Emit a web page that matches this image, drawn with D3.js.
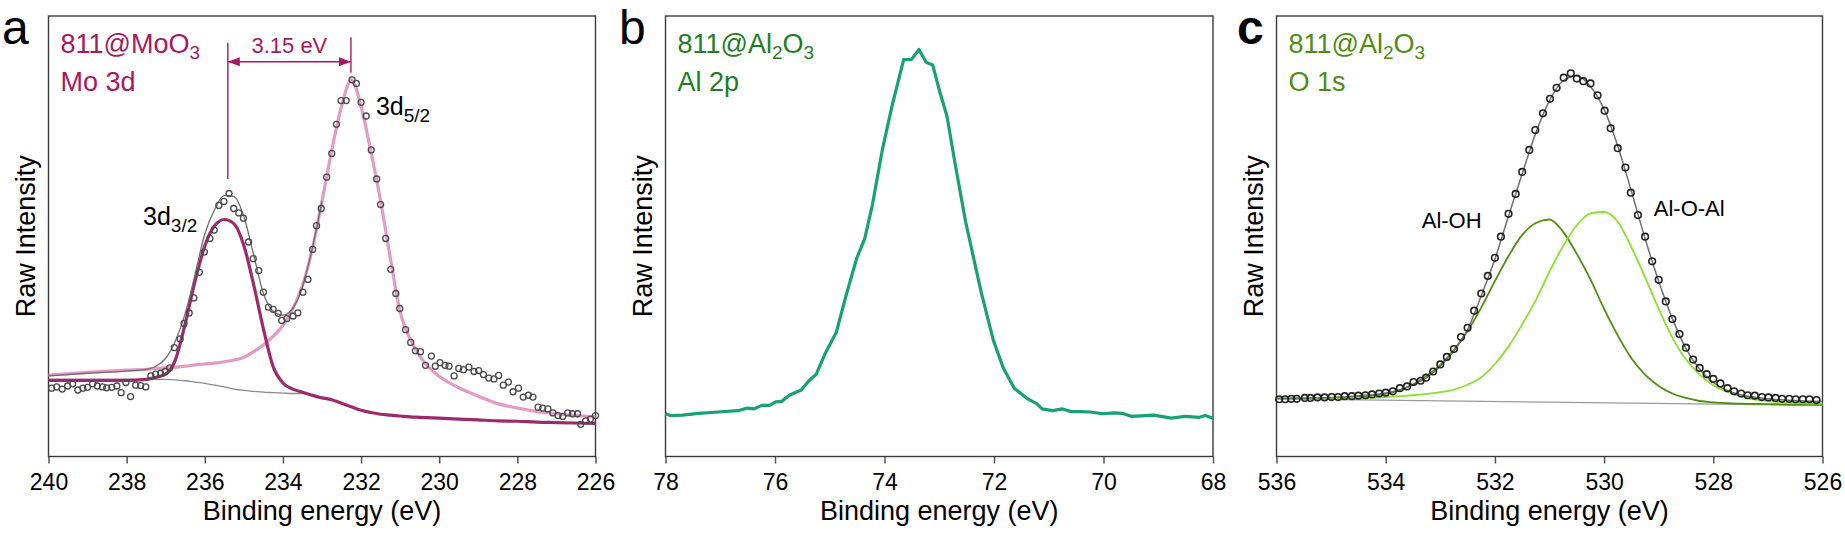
<!DOCTYPE html>
<html>
<head>
<meta charset="utf-8">
<script src="https://cdn.jsdelivr.net/npm/d3@7"></script>
<style>
  body { margin: 0; background: #fff; }
  svg text { font-family: "Liberation Sans", Arial, sans-serif; }
</style>
</head>
<body>
<div id="chart"></div>
<script>
// intensities are raw counts rescaled: 0 = bottom of the frame, 100 = top

// ---- a: Mo 3d ----
var moTicks = [240, 238, 236, 234, 232, 230, 228, 226];
var moRaw = [
    [239.92, 15.5], [239.79, 15.8], [239.65, 15.3], [239.51, 16.0], [239.38, 16.5], [239.25, 15.1],
    [239.12, 15.5], [239.00, 15.7], [238.87, 16.5], [238.75, 16.0], [238.62, 15.8], [238.51, 15.6],
    [238.38, 15.7], [238.25, 16.0], [238.14, 14.5], [238.02, 16.8], [237.90, 13.6], [237.77, 16.2],
    [237.64, 16.1], [237.51, 15.8], [237.38, 18.3], [237.26, 18.7], [237.13, 18.9], [237.01, 19.3],
    [236.90, 20.1], [236.78, 24.7], [236.63, 26.7], [236.53, 30.2], [236.40, 32.6], [236.28, 36.0],
    [236.14, 41.8], [236.01, 46.4], [235.87, 49.5], [235.76, 51.4], [235.64, 57.0], [235.51, 57.9],
    [235.38, 59.7], [235.26, 56.3], [235.13, 55.3], [235.01, 54.1], [234.88, 48.7], [234.76, 44.9],
    [234.62, 42.2], [234.50, 37.3], [234.37, 33.9], [234.25, 33.4], [234.12, 32.5], [234.03, 30.9],
    [233.90, 31.3], [233.74, 31.9], [233.62, 32.6], [233.49, 37.3], [233.36, 40.2], [233.24, 47.0],
    [233.14, 52.4], [233.02, 56.3], [232.88, 63.4], [232.75, 68.8], [232.63, 75.4], [232.51, 80.8],
    [232.38, 80.8], [232.23, 85.5], [232.12, 84.7], [232.00, 80.4], [231.87, 77.3], [231.74, 69.6],
    [231.60, 63.0], [231.50, 57.2], [231.37, 49.5], [231.24, 42.5], [231.11, 37.0], [231.01, 33.6],
    [230.86, 28.8], [230.73, 25.9], [230.61, 24.0], [230.48, 23.8], [230.35, 20.7], [230.20, 22.8],
    [230.10, 20.5], [229.98, 21.3], [229.85, 20.7], [229.75, 20.5], [229.62, 18.3], [229.50, 20.0],
    [229.38, 19.7], [229.24, 20.3], [229.11, 19.3], [228.99, 19.5], [228.87, 18.6], [228.73, 17.8],
    [228.60, 17.6], [228.48, 18.4], [228.36, 16.2], [228.23, 16.9], [228.11, 14.7], [227.97, 15.5],
    [227.85, 13.5], [227.72, 13.9], [227.60, 13.5], [227.47, 11.2], [227.35, 11.0], [227.22, 10.8],
    [227.09, 9.9], [226.96, 9.3], [226.84, 9.1], [226.71, 9.9], [226.59, 9.7], [226.46, 9.7],
    [226.38, 7.3], [226.25, 8.1], [226.13, 8.5], [226.00, 9.3]
];
var moFitE = [240, 239, 238, 237.5, 237.25, 237, 236.75, 236.5, 236.25, 236, 235.75, 235.5, 235.25, 235,
    234.75, 234.5, 234.25, 234, 233.75, 233.5, 233.25, 233, 232.75, 232.5, 232.25, 232, 231.75, 231.5,
    231.25, 231, 230.75, 230.5, 230, 229.5, 229, 228.5, 228, 227.5, 227, 226.5, 226];
var moD52 = [18.5, 19.1, 19.6, 19.8, 20.0, 20.1, 20.3, 20.5, 20.8, 21.0, 21.2, 21.5, 21.9, 22.5,
    23.8, 25.3, 27.3, 29.8, 33.5, 38.8, 47.0, 58.0, 69.5, 79.5, 85.5, 79.5, 69.3, 58.0,
    45.0, 32.8, 26.8, 22.8, 18.2, 15.6, 13.7, 12.0, 11.0, 10.2, 9.7, 9.3, 9.0];
var moD32 = [17.3, 17.3, 17.3, 17.5, 18.0, 18.7, 22.0, 30.2, 39.8, 47.8, 52.4, 53.8, 52.8, 47.9,
    39.0, 29.0, 20.4, 16.7, 15.3, 14.6, 13.9, 13.3, 12.9, 12.1, 11.3, 10.5, 10.0, 9.6,
    9.4, 9.2, 9.0, 8.9, 8.7, 8.5, 8.3, 8.1, 8.0, 7.8, 7.7, 7.6, 7.5];
var moBackground = [17.5, 17.5, 17.5, 17.5, 17.5, 17.5, 17.4, 17.2, 16.9, 16.6, 16.2, 15.8, 15.3, 15.0,
    14.8, 14.6, 14.5, 14.4, 14.3, 14.3, null, null, null, null, null, null, null, null,
    null, null, null, null, null, null, null, null, null, null, null, null, null];
var moEnvelope = [18.3, 18.9, 19.4, 19.8, 20.5, 22.3, 26.3, 32.5, 41.3, 50.5, 56.0, 59.3, 59.0, 54.5,
    45.8, 37.0, 33.0, 32.1, 33.6, 38.5, 47.2, 58.0, null, null, null, null, null, null,
    null, null, null, null, null, null, null, null, null, null, null, null, null];
var moPeaks = [235.41, 232.26]; // 3d3/2 and 3d5/2, 3.15 eV apart

// ---- b: Al 2p ----
var alTicks = [78, 76, 74, 72, 70, 68];
var al2p = [
    [78.00, 9.7], [77.91, 9.3], [77.69, 9.4], [77.40, 9.8], [77.04, 10.1], [76.68, 10.4], [76.50, 11.0],
    [76.39, 10.8], [76.24, 11.6], [76.10, 11.6], [75.99, 12.4], [75.88, 12.5], [75.74, 13.9], [75.52, 15.1],
    [75.38, 17.2], [75.25, 18.6], [75.09, 23.2], [74.88, 28.2], [74.69, 37.1], [74.51, 44.9], [74.36, 49.5],
    [74.22, 57.2], [74.04, 69.6], [73.86, 79.7], [73.65, 90.1], [73.51, 90.1], [73.37, 92.4], [73.24, 89.5],
    [73.12, 88.9], [72.99, 82.8], [72.86, 77.3], [72.70, 65.7], [72.52, 53.4], [72.37, 44.9], [72.23, 37.1],
    [72.01, 26.3], [71.83, 20.1], [71.63, 15.5], [71.40, 13.2], [71.22, 12.0], [71.12, 10.8], [70.93, 10.4],
    [70.75, 10.8], [70.60, 10.2], [70.42, 10.2], [70.24, 10.1], [70.02, 9.7], [69.81, 9.9], [69.66, 9.8],
    [69.48, 9.1], [69.08, 9.4], [68.76, 8.7], [68.51, 9.1], [68.25, 8.9], [68.14, 9.3], [68.00, 8.7]
];

// ---- c: O 1s ----
var oTicks = [536, 534, 532, 530, 528, 526];
var o1sRaw = [
    [535.95, 13.0], [535.84, 13.0], [535.73, 13.1], [535.63, 13.1], [535.48, 13.3], [535.38, 13.3],
    [535.25, 13.4], [535.12, 13.4], [534.99, 13.5], [534.87, 13.5], [534.75, 13.7], [534.62, 13.7],
    [534.50, 13.8], [534.37, 13.9], [534.25, 14.1], [534.12, 14.3], [534.00, 14.5], [533.87, 14.8],
    [533.74, 15.5], [533.61, 15.9], [533.49, 16.9], [533.36, 17.2], [533.26, 17.9], [533.13, 19.3],
    [533.00, 20.9], [532.88, 22.6], [532.75, 24.4], [532.62, 27.1], [532.50, 29.2], [532.38, 33.1],
    [532.25, 37.0], [532.13, 41.0], [532.00, 45.1], [531.89, 49.9], [531.75, 55.1], [531.62, 59.6],
    [531.50, 64.6], [531.37, 69.6], [531.26, 74.1], [531.12, 77.9], [530.99, 81.2], [530.87, 83.7],
    [530.74, 86.0], [530.61, 87.0], [530.50, 85.8], [530.38, 85.2], [530.25, 84.7], [530.12, 82.0],
    [529.99, 78.5], [529.88, 74.5], [529.75, 70.0], [529.61, 65.6], [529.51, 59.9], [529.38, 54.8],
    [529.25, 49.9], [529.12, 44.3], [529.00, 40.1], [528.87, 35.2], [528.75, 31.2], [528.62, 27.8],
    [528.50, 24.7], [528.37, 22.0], [528.25, 20.1], [528.12, 18.7], [528.00, 17.6], [527.87, 16.6],
    [527.74, 15.5], [527.62, 14.8], [527.49, 14.3], [527.37, 13.9], [527.24, 13.8], [527.11, 13.5],
    [526.99, 13.4], [526.86, 13.3], [526.74, 13.1], [526.61, 13.1], [526.49, 13.0], [526.36, 13.0],
    [526.24, 13.0], [526.11, 12.8]
];
var o1sFitE = [536, 535, 534.5, 534, 533.75, 533.5, 533.25, 533, 532.75, 532.5, 532.25, 532, 531.75,
    531.5, 531.25, 531, 530.75, 530.5, 530.25, 530, 529.75, 529.5, 529.25, 529, 528.75, 528.5,
    528.25, 528, 527.75, 527.5, 527, 526.5, 526];
var o1sAlOH = [13.1, 13.3, 13.6, 14.2, 15.0, 16.4, 18.3, 20.8, 24.2, 28.5, 33.8, 39.8, 45.5,
    50.3, 53.0, 53.8, 51.0, 46.0, 40.2, 33.5, 27.5, 22.3, 18.6, 16.0, 14.3, 13.3,
    12.6, 12.3, 12.1, 12.0, 11.9, 11.8, 11.8];
var o1sAlOAl = [13.1, 13.2, 13.3, 13.5, 13.7, 13.9, 14.2, 14.6, 15.2, 16.3, 18.0, 21.0, 25.0,
    30.0, 35.5, 42.0, 47.8, 52.5, 55.2, 55.5, 53.3, 47.5, 40.7, 33.5, 27.0, 22.0,
    18.6, 16.2, 14.7, 13.6, 12.6, 12.2, 12.0];
var o1sEnvelope = [13.2, 13.4, 13.8, 14.4, 15.1, 16.3, 17.9, 20.5, 24.0, 28.8, 36.5, 44.8, 54.6,
    64.2, 73.5, 80.8, 85.3, 86.4, 84.0, 78.8, 70.5, 60.2, 49.5, 39.8, 31.3, 24.5,
    19.8, 16.8, 15.0, 14.0, 13.1, 12.7, 12.5];
var o1sBackground = [[536, 13.1], [526, 11.6]];

// ---- layout ----
var W = 1845, H = 533;
var plotTop = 16, plotBottom = 456.5;

var moColor = '#a8185e';
var alColor = '#1f7d22';
var oColor = '#4f8c14';

var svg = d3.select('#chart').append('svg')
    .attr('width', W)
    .attr('height', H);
svg.append('rect')
    .attr('width', W)
    .attr('height', H)
    .attr('fill', '#fff');

var defs = svg.append('defs');
defs.append('marker')
    .attr('id', 'arrow')
    .attr('viewBox', '0 0 12 9')
    .attr('refX', 12)
    .attr('refY', 4.5)
    .attr('markerWidth', 12)
    .attr('markerHeight', 9)
    .attr('markerUnits', 'userSpaceOnUse')
    .attr('orient', 'auto-start-reverse')
    .append('path')
    .attr('d', 'M0,0L12,4.5L0,9Z')
    .attr('fill', moColor);

function makePanel(left, right, domain, ticks, letter, letterX, letterWeight) {
    var x = d3.scaleLinear().domain(domain).range([left, right]);
    var y = d3.scaleLinear().domain([0, 100]).range([plotBottom, plotTop]);

    var axis = svg.append('g')
        .attr('transform', 'translate(0,' + plotBottom + ')')
        .call(d3.axisBottom(x).tickValues(ticks).tickSize(7).tickPadding(10.5).tickSizeOuter(0));
    axis.select('.domain').remove();
    axis.selectAll('line').attr('stroke', '#555').attr('stroke-width', 1.5);
    axis.selectAll('text').attr('font-size', 23).attr('fill', '#000');

    svg.append('rect')
        .attr('x', left)
        .attr('y', plotTop)
        .attr('width', right - left)
        .attr('height', plotBottom - plotTop)
        .attr('fill', 'none')
        .attr('stroke', '#3a3a3a')
        .attr('stroke-width', 1.4);

    svg.append('text')
        .attr('x', (left + right) / 2)
        .attr('y', 520)
        .attr('text-anchor', 'middle')
        .attr('font-size', 27)
        .text('Binding energy (eV)');
    svg.append('text')
        .attr('transform', 'translate(' + (left - 14) + ',' + (plotTop + plotBottom) / 2 + ') rotate(-90)')
        .attr('text-anchor', 'middle')
        .attr('font-size', 27)
        .text('Raw Intensity');
    svg.append('text')
        .attr('x', letterX)
        .attr('y', 44)
        .attr('font-size', 48)
        .attr('font-weight', letterWeight || 'normal')
        .text(letter);

    return { x: x, y: y, left: left };
}

function drawLine(p, pts, color, width, curve) {
    var line = d3.line()
        .defined(function (d) { return d[1] != null; })
        .x(function (d) { return p.x(d[0]); })
        .y(function (d) { return p.y(d[1]); })
        .curve(curve || d3.curveMonotoneX);
    svg.append('path')
        .datum(pts)
        .attr('d', line)
        .attr('fill', 'none')
        .attr('stroke', color)
        .attr('stroke-width', width)
        .attr('stroke-linejoin', 'round');
}

function drawPoints(p, pts, color, r, width) {
    svg.append('g')
        .selectAll('circle')
        .data(pts)
        .enter()
        .append('circle')
        .attr('cx', function (d) { return p.x(d[0]); })
        .attr('cy', function (d) { return p.y(d[1]); })
        .attr('r', r)
        .attr('fill', 'none')
        .attr('stroke', color)
        .attr('stroke-width', width);
}

// two-line panel title with chemical subscripts
function drawTitle(p, parts, second, color) {
    var t = svg.append('text')
        .attr('x', p.left + 12)
        .attr('y', 53)
        .attr('font-size', 27)
        .attr('fill', color);
    var shift = 0;
    parts.forEach(function (s) {
        var sub = s.charAt(0) === '_';
        var dy = sub ? 6 - shift : -shift;
        shift = sub ? 6 : 0;
        t.append('tspan')
            .attr('dy', dy)
            .attr('font-size', sub ? 19 : 27)
            .text(sub ? s.slice(1) : s);
    });
    svg.append('text')
        .attr('x', p.left + 12)
        .attr('y', 91)
        .attr('font-size', 27)
        .attr('fill', color)
        .text(second);
}

function drawLabel(p, e, v, main, sub, size) {
    var t = svg.append('text')
        .attr('x', p.x(e))
        .attr('y', p.y(v))
        .attr('font-size', size)
        .attr('fill', '#000');
    t.append('tspan').text(main);
    if (sub) {
        t.append('tspan').attr('dy', 7).attr('font-size', 19).text(sub);
    }
}

// ---- panel a ----
var pa = makePanel(48.5, 595.5, [240, 226], moTicks, 'a', 2);
drawLine(pa, d3.zip(moFitE, moBackground), '#8c8c8c', 1.3);
drawLine(pa, d3.zip(moFitE, moD52), '#e39bc3', 3.2);
drawLine(pa, d3.zip(moFitE, moD32), '#9b2b6b', 3.2);
drawLine(pa, d3.zip(moFitE, moEnvelope), '#6e6e6e', 1.3);
drawPoints(pa, moRaw, '#4a4a4a', 3, 1.3);
drawTitle(pa, ['811@MoO', '_3'], 'Mo 3d', moColor);
drawLabel(pa, 237.58, 52.6, '3d', '3/2', 25);
drawLabel(pa, 231.62, 77.5, '3d', '5/2', 25);

// 3.15 eV splitting marker
svg.append('line')
    .attr('x1', pa.x(moPeaks[0])).attr('x2', pa.x(moPeaks[0]))
    .attr('y1', pa.y(93.9)).attr('y2', pa.y(63.0))
    .attr('stroke', moColor).attr('stroke-width', 1.4);
svg.append('line')
    .attr('x1', pa.x(moPeaks[1])).attr('x2', pa.x(moPeaks[1]))
    .attr('y1', pa.y(95.2)).attr('y2', pa.y(87.1))
    .attr('stroke', moColor).attr('stroke-width', 1.4);
svg.append('line')
    .attr('x1', pa.x(moPeaks[0])).attr('x2', pa.x(moPeaks[1]))
    .attr('y1', pa.y(89.6)).attr('y2', pa.y(89.6))
    .attr('stroke', moColor).attr('stroke-width', 1.4)
    .attr('marker-start', 'url(#arrow)')
    .attr('marker-end', 'url(#arrow)');
svg.append('text')
    .attr('x', (pa.x(moPeaks[0]) + pa.x(moPeaks[1])) / 2)
    .attr('y', pa.y(91.6))
    .attr('text-anchor', 'middle')
    .attr('font-size', 22)
    .attr('fill', moColor)
    .text((moPeaks[0] - moPeaks[1]).toFixed(2) + ' eV');

// ---- panel b ----
var pb = makePanel(665.5, 1213, [78, 68], alTicks, 'b', 619);
drawLine(pb, al2p, '#17a174', 3.2, d3.curveLinear);
drawTitle(pb, ['811@Al', '_2', 'O', '_3'], 'Al 2p', alColor);

// ---- panel c ----
var pc = makePanel(1276.5, 1822.5, [536, 526], oTicks, 'c', 1237, 'bold');
drawLine(pc, o1sBackground, '#9a9a9a', 1.3, d3.curveLinear);
drawLine(pc, d3.zip(o1sFitE, o1sAlOH), '#4f8f0f', 1.8);
drawLine(pc, d3.zip(o1sFitE, o1sAlOAl), '#8be030', 1.8);
drawLine(pc, d3.zip(o1sFitE, o1sEnvelope), '#707070', 1.5);
drawPoints(pc, o1sRaw, '#222', 3.3, 1.6);
drawTitle(pc, ['811@Al', '_2', 'O', '_3'], 'O 1s', oColor);
drawLabel(pc, 533.34, 51.9, 'Al-OH', null, 22);
drawLabel(pc, 529.09, 54.6, 'Al-O-Al', null, 22);
</script>
</body>
</html>
